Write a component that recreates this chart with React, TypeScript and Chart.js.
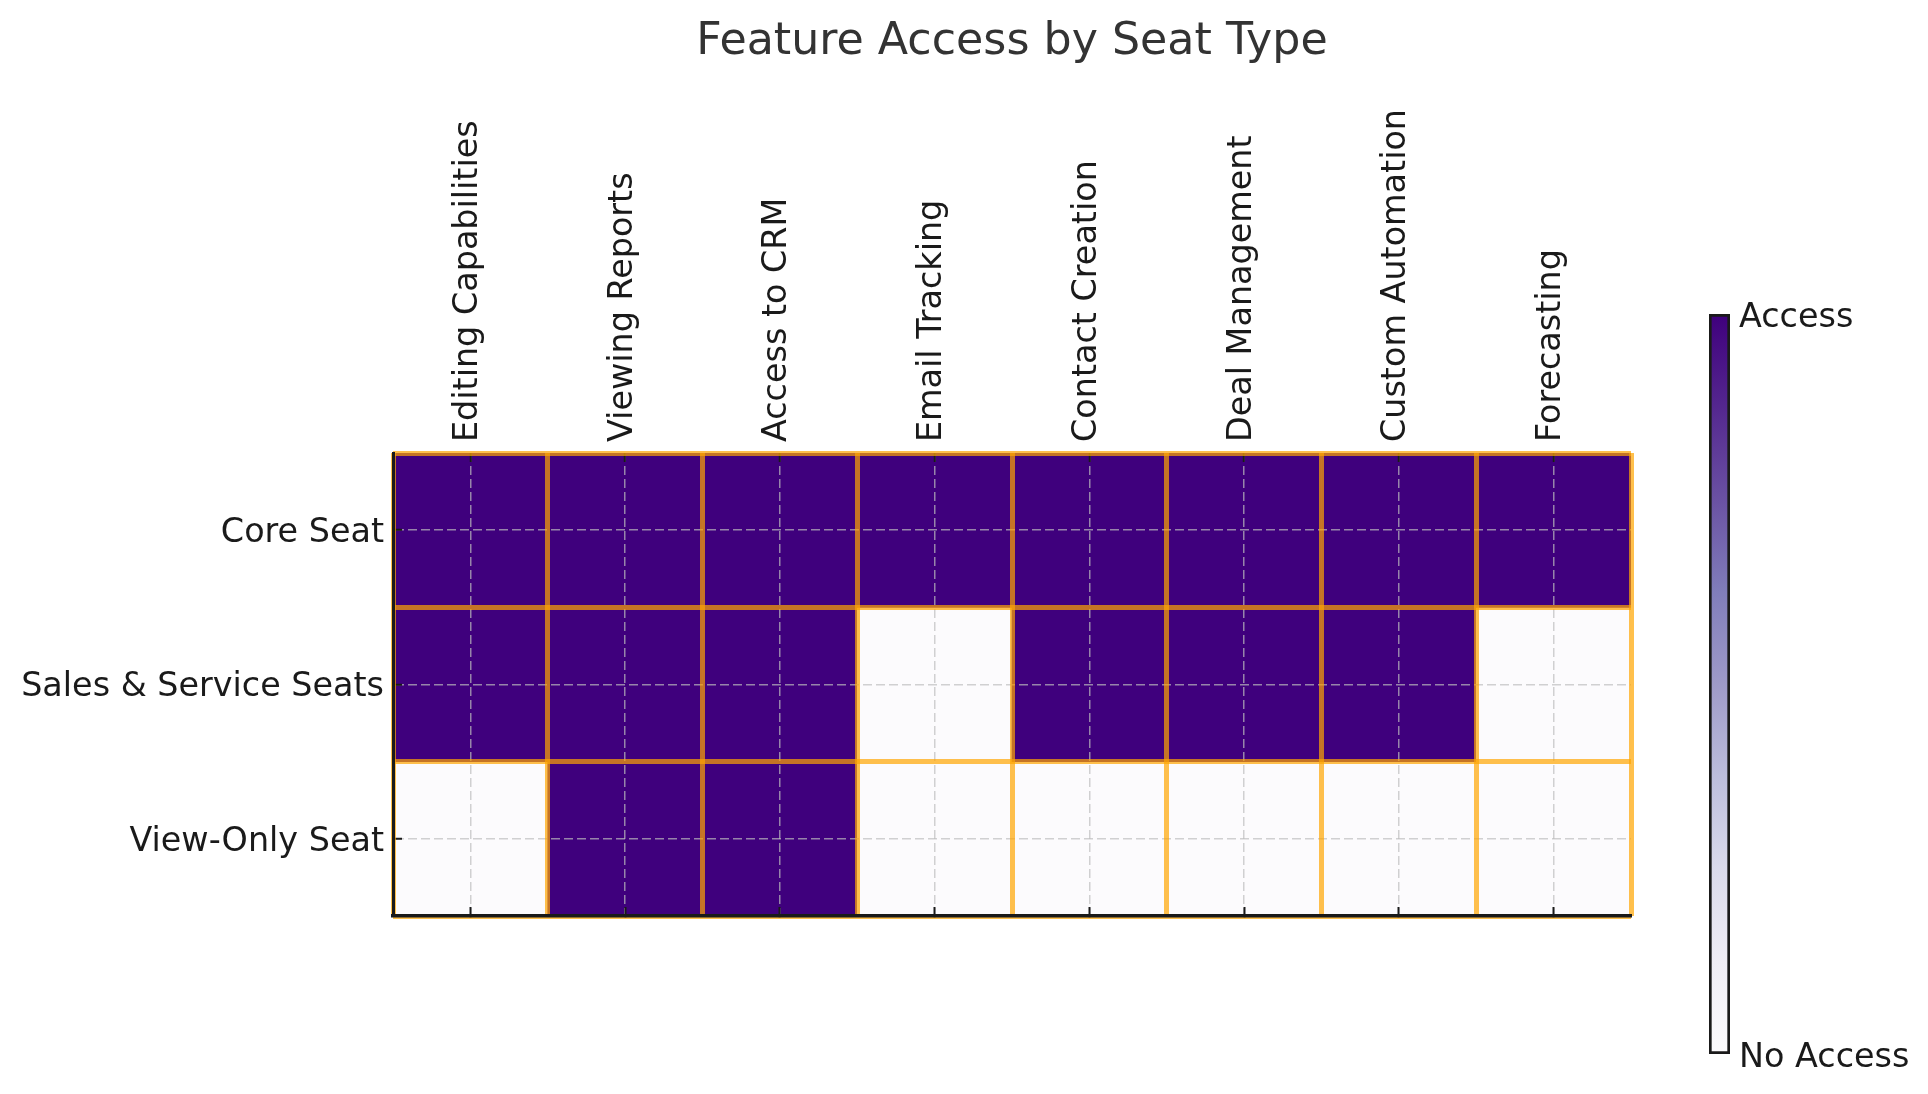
import React, { useEffect, useRef } from 'react';
import { Chart, registerables } from 'chart.js';

Chart.register(...registerables);

// ---------- data ----------
const features = [
  'Editing Capabilities',
  'Viewing Reports',
  'Access to CRM',
  'Email Tracking',
  'Contact Creation',
  'Deal Management',
  'Custom Automation',
  'Forecasting',
];
const seatTypes = ['Core Seat', 'Sales & Service Seats', 'View-Only Seat'];
const coreSeatAccess = [1, 1, 1, 1, 1, 1, 1, 1];
const salesServiceAccess = [1, 1, 1, 0, 1, 1, 1, 0];
const viewOnlyAccess = [0, 1, 1, 0, 0, 0, 0, 0];
const accessRows = [coreSeatAccess, salesServiceAccess, viewOnlyAccess];
const rowEdges = [0, 1, 2, 3];
const colorbarTicks = [0, 1];
const colorbarLabels = ['No Access', 'Access'];
const purplesStops = ['#fcfbfd', '#efedf5', '#dadaeb', '#bcbddc', '#9e9ac8', '#807dba', '#6a51a3', '#54278f', '#3f007d'];
const chartTitle = 'Feature Access by Seat Type';

// ---------- styles ----------
const FONT = "'DejaVu Sans', sans-serif";
const TEXT = '#1a1a1a';
const TITLE_COLOR = '#333333';
const GRID = 'rgba(190,190,190,0.7)';
const EDGE = 'rgba(255,165,0,0.7)';
const PURPLE = purplesStops[purplesStops.length - 1];
const WHITE = purplesStops[0];
const TICK_SIZE = 33.4;

export default function App() {
  const mainRef = useRef<HTMLCanvasElement>(null);
  const barRef = useRef<HTMLCanvasElement>(null);

  useEffect(() => {
    if (!mainRef.current || !barRef.current) return;

    const datasets = seatTypes.map((seat, r) => ({
      label: seat,
      data: features.map(() => [r, r + 1]),
      backgroundColor: accessRows[r].map((v) => (v ? PURPLE : WHITE)),
      borderWidth: 0,
      barPercentage: 1,
      categoryPercentage: 1,
      grouped: false,
      xAxisID: 'x',
      yAxisID: 'y',
    }));

    const main = new Chart(mainRef.current, {
      type: 'bar',
      data: { labels: features, datasets: datasets as any },
      options: {
        animation: false,
        responsive: false,
        layout: { padding: { left: 0, right: 297, top: 0, bottom: 178 } },
        plugins: {
          legend: { display: false },
          tooltip: { enabled: false },
          title: { display: false },
        },
        scales: {
          x: {
            type: 'category',
            position: 'top',
            offset: true,
            afterFit: (s: any) => { s.height = 453; },
            title: {
              display: true,
              text: chartTitle,
              color: TITLE_COLOR,
              font: { family: FONT, size: 44.3, weight: 'normal' },
              padding: { top: 16, bottom: 0 },
            },
            grid: {
              display: true, offset: false, color: GRID, lineWidth: 1.5, z: 1,
              drawTicks: true, tickLength: -9, tickColor: TEXT, tickWidth: 2, tickBorderDash: [],
            } as any,
            border: { display: false, dash: [9, 4] },
            ticks: {
              autoSkip: false, maxRotation: 90, minRotation: 90, padding: 20, labelOffset: 38,
              color: TEXT, font: { family: FONT, size: TICK_SIZE },
            },
          },
          xBottom: {
            type: 'category',
            position: 'bottom',
            offset: true,
            afterFit: (s: any) => { s.height = 0; },
            grid: {
              display: true, offset: false, drawOnChartArea: false, drawTicks: true,
              tickLength: -9, tickColor: TEXT, tickWidth: 2, z: 1,
            } as any,
            border: { display: true, color: TEXT, width: 3.5, z: 3 },
            ticks: { display: false },
          },
          xEdges: {
            type: 'category',
            position: 'bottom',
            offset: true,
            afterFit: (s: any) => { s.height = 0; },
            grid: { display: true, offset: true, color: EDGE, lineWidth: 5, z: 2, drawTicks: false } as any,
            border: { display: false },
            ticks: { display: false },
          },
          y: {
            type: 'linear',
            position: 'left',
            min: 0,
            max: 3,
            reverse: true,
            afterBuildTicks: (s: any) => { s.ticks = seatTypes.map((_, i) => ({ value: i + 0.5 })); },
            afterFit: (s: any) => { s.width = 393; },
            ticks: {
              callback: (v: any) => seatTypes[Math.floor(Number(v))],
              padding: 18,
              labelOffset: 3,
              color: TEXT,
              font: { family: FONT, size: TICK_SIZE },
            },
            grid: {
              display: true, color: GRID, lineWidth: 1.5, z: 1,
              drawTicks: true, tickLength: -9, tickColor: TEXT, tickWidth: 2, tickBorderDash: [],
            } as any,
            border: { display: true, color: TEXT, width: 3, z: 3, dash: [9, 4] },
          },
          yEdges: {
            type: 'linear',
            position: 'left',
            min: 0,
            max: 3,
            reverse: true,
            afterBuildTicks: (s: any) => { s.ticks = rowEdges.map((v) => ({ value: v })); },
            afterFit: (s: any) => { s.width = 0; },
            ticks: { display: false },
            grid: { display: true, color: EDGE, lineWidth: 5, z: 2, drawTicks: false } as any,
            border: { display: false },
          },
        },
      } as any,
    });

    const colorbar = new Chart(barRef.current, {
      type: 'bar',
      data: {
        labels: ['colorbar'],
        datasets: [
          {
            data: [[0, 1]] as any,
            backgroundColor: (c: any) => {
              const { chartArea, ctx } = c.chart;
              if (!chartArea) return PURPLE;
              const g = ctx.createLinearGradient(0, chartArea.bottom, 0, chartArea.top);
              purplesStops.forEach((s, i) => g.addColorStop(i / (purplesStops.length - 1), s));
              return g;
            },
            borderColor: TEXT,
            borderWidth: 3,
            borderSkipped: false,
            barPercentage: 1,
            categoryPercentage: 1,
          } as any,
        ],
      },
      options: {
        animation: false,
        responsive: false,
        layout: { padding: { top: 34, bottom: 40, left: 9, right: 0 } },
        plugins: { legend: { display: false }, tooltip: { enabled: false }, title: { display: false } },
        scales: {
          x: { display: false, offset: true },
          y: {
            type: 'linear',
            position: 'right',
            min: 0,
            max: 1,
            afterBuildTicks: (s: any) => { s.ticks = colorbarTicks.map((v) => ({ value: v })); },
            afterFit: (s: any) => { s.width = 198; },
            ticks: {
              callback: (v: any) => colorbarLabels[colorbarTicks.indexOf(Number(v))],
              padding: 9,
              labelOffset: 4,
              color: TEXT,
              font: { family: FONT, size: TICK_SIZE },
            },
            grid: { display: false, drawTicks: false },
            border: { display: false },
          },
        },
      } as any,
    });

    return () => {
      main.destroy();
      colorbar.destroy();
    };
  }, []);

  return (
    <div style={{ position: 'absolute', left: 0, top: 0, width: 1928, height: 1094, background: '#ffffff' }}>
      <canvas ref={mainRef} width={1928} height={1094} style={{ position: 'absolute', left: 0, top: 0, width: 1928, height: 1094 }} />
      <canvas ref={barRef} width={228} height={814} style={{ position: 'absolute', left: 1700, top: 280, width: 228, height: 814 }} />
    </div>
  );
}
